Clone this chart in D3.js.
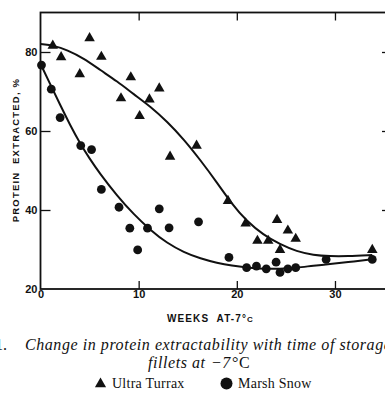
<!DOCTYPE html>
<html>
<head>
<meta charset="utf-8">
<script src="https://cdn.jsdelivr.net/npm/d3@7"></script>
<style>
  body { margin: 0; background: #fff; }
  svg { display: block; }
  .tick text { font-family: "Liberation Sans", Arial, sans-serif; font-weight: bold; font-size: 11px; fill: #111; }
  .caption { font-family: "Liberation Serif", "Times New Roman", serif; fill: #111; }
</style>
</head>
<body>
<svg id="chart" width="385" height="393"></svg>
<script>
// Ultra Turrax extractions: [weeks, % protein extracted]
const turraxPoints = [
    [1.25, 81.6], [2.1, 78.7], [4.0, 74.4], [5.0, 83.5], [6.2, 78.8],
    [8.2, 68.3], [9.2, 73.6], [10.1, 63.8], [11.1, 68.0], [12.1, 70.8],
    [13.2, 53.5], [15.9, 56.3], [19.1, 42.3], [20.9, 36.6], [22.1, 32.2],
    [23.2, 32.2], [24.1, 37.5], [24.4, 29.9], [25.2, 34.8], [26.0, 32.7],
    [33.8, 29.9]
];

// Marsh Snow extractions
const marshPoints = [
    [0.1, 76.7], [1.1, 70.6], [2.0, 63.4], [4.1, 56.3], [5.2, 55.3],
    [6.2, 45.2], [8.0, 40.7], [9.1, 35.4], [9.9, 29.9], [10.9, 35.4],
    [12.1, 40.3], [13.1, 35.5], [16.1, 37.0], [19.2, 28.0], [21.0, 25.4],
    [22.0, 25.8], [23.0, 25.1], [24.0, 26.8], [24.4, 24.2], [25.2, 25.1],
    [26.0, 25.4], [29.1, 27.5], [33.8, 27.5]
];

// hand-fitted trend curves
const turraxCurve = [
    [0, 82.0], [1.4, 81.6], [2.7, 80.5], [4.4, 78.4], [6.1, 75.4],
    [7.8, 72.6], [9.5, 69.3], [11.2, 66.2], [12.9, 62.4], [14.6, 57.9],
    [16.3, 52.6], [18.0, 46.9], [19.5, 41.5], [21.0, 37.2], [22.7, 33.7],
    [24.4, 31.3], [26.1, 29.5], [27.8, 28.6], [29.5, 28.3], [31.2, 28.3],
    [33.8, 28.6]
];
const marshCurve = [
    [0, 77.0], [1, 71.8], [2, 66.6], [3, 61.6], [4, 57.0], [5, 53.0],
    [6, 49.4], [7.8, 43.6], [9.5, 38.9], [11.2, 34.9], [12.9, 31.6],
    [14.6, 29.3], [16.3, 27.7], [18, 26.6], [19.5, 25.9], [21, 25.4],
    [22.7, 25.1], [24.4, 25.1], [26.1, 25.4], [27.8, 25.9], [29.5, 26.3],
    [31.2, 26.8], [33.8, 27.5]
];

const weekTicks = [0, 10, 20, 30];
const pctTicks = [20, 40, 60, 80];

const svg = d3.select("#chart");
const plotLeft = 40.5, plotRight = 387, plotTop = 12.5, plotBottom = 289;

const x = d3.scaleLinear().domain([0, 35.3]).range([plotLeft, plotRight]);
const y = d3.scaleLinear().domain([20, 90]).range([plotBottom, plotTop]);

const ink = "#111";

// frame
svg.append("rect")
    .attr("x", plotLeft).attr("y", plotTop)
    .attr("width", plotRight - plotLeft).attr("height", plotBottom - plotTop)
    .attr("fill", "none").attr("stroke", ink).attr("stroke-width", 1.8);

// axes with inward ticks
const yAxis = svg.append("g")
    .attr("transform", `translate(${plotLeft},0)`)
    .call(d3.axisLeft(y).tickValues(pctTicks).tickSize(-10).tickPadding(3).tickFormat(d3.format("d")));
yAxis.select(".domain").remove();
yAxis.selectAll(".tick line").attr("stroke", ink).attr("stroke-width", 1.3)
    .filter(d => d === 20).remove();

const xAxis = svg.append("g")
    .attr("transform", `translate(0,${plotBottom})`)
    .call(d3.axisBottom(x).tickValues(weekTicks).tickSize(-8).tickPadding(1).tickFormat(d3.format("d")));
xAxis.select(".domain").remove();
xAxis.selectAll(".tick line").attr("stroke", ink).attr("stroke-width", 1.3)
    .filter(d => d === 0).remove();

const topAxis = svg.append("g")
    .attr("transform", `translate(0,${plotTop})`)
    .call(d3.axisTop(x).tickValues([10, 20, 30]).tickSize(-8).tickFormat(""));
topAxis.select(".domain").remove();
topAxis.selectAll(".tick line").attr("stroke", ink).attr("stroke-width", 1.3);

const rightAxis = svg.append("g")
    .attr("transform", `translate(${plotRight},0)`)
    .call(d3.axisRight(y).tickValues([40, 60, 80]).tickSize(-5).tickFormat(""));
rightAxis.select(".domain").remove();
rightAxis.selectAll(".tick line").attr("stroke", ink).attr("stroke-width", 1.3);

// axis titles
svg.append("text")
    .attr("transform", "translate(19,150) rotate(-90)")
    .attr("text-anchor", "middle")
    .style("white-space", "pre")
    .attr("font-family", "Liberation Sans, Arial, sans-serif")
    .attr("font-weight", "bold")
    .attr("font-size", 9.5)
    .attr("letter-spacing", 1.2)
    .attr("fill", ink)
    .text("PROTEIN  EXTRACTED, %");

const xTitle = svg.append("text")
    .attr("x", 167).attr("y", 322)
    .style("white-space", "pre")
    .attr("font-family", "Liberation Sans, Arial, sans-serif")
    .attr("font-weight", "bold")
    .attr("font-size", 10)
    .attr("letter-spacing", 1.1)
    .attr("fill", ink);
xTitle.append("tspan").text("WEEKS  AT-7°");
xTitle.append("tspan").attr("font-size", 8).text("C");

// trend lines
const line = d3.line()
    .x(d => x(d[0]))
    .y(d => y(d[1]))
    .curve(d3.curveBasis);

svg.append("path").datum(turraxCurve)
    .attr("d", line).attr("fill", "none").attr("stroke", ink).attr("stroke-width", 2);
svg.append("path").datum(marshCurve)
    .attr("d", line).attr("fill", "none").attr("stroke", ink).attr("stroke-width", 2);

// markers
const tri = d3.symbol(d3.symbolTriangle, 48);
svg.append("g").selectAll("path")
    .data(turraxPoints)
    .enter().append("path")
    .attr("d", tri)
    .attr("transform", d => `translate(${x(d[0])},${y(d[1])})`)
    .attr("fill", ink);

svg.append("g").selectAll("circle")
    .data(marshPoints)
    .enter().append("circle")
    .attr("cx", d => x(d[0]))
    .attr("cy", d => y(d[1]))
    .attr("r", 4.4)
    .attr("fill", ink);

// caption
svg.append("text")
    .attr("class", "caption")
    .attr("x", 7).attr("y", 350)
    .attr("text-anchor", "end")
    .attr("font-size", 16)
    .text("1.");

svg.append("text")
    .attr("class", "caption")
    .attr("x", 25).attr("y", 350)
    .attr("font-size", 16)
    .attr("letter-spacing", 0.56)
    .attr("font-style", "italic")
    .text("Change in protein extractability with time of storage of");

const cap2 = svg.append("text")
    .attr("class", "caption")
    .attr("y", 368)
    .attr("font-size", 16)
    .attr("letter-spacing", 0.56);
cap2.append("tspan").attr("x", 148).attr("font-style", "italic").text("fillets at");
cap2.append("tspan").attr("x", 211).attr("font-style", "italic").text("−7");
cap2.append("tspan").attr("dx", 1).text("°C");

// legend
const legend = svg.append("g").attr("class", "caption");
legend.append("path")
    .attr("d", d3.symbol(d3.symbolTriangle, 54))
    .attr("transform", "translate(100.5,384)")
    .attr("fill", ink);
legend.append("text")
    .attr("x", 112).attr("y", 388)
    .attr("font-size", 14)
    .attr("letter-spacing", 0.25)
    .text("Ultra Turrax");
legend.append("circle")
    .attr("cx", 226.5).attr("cy", 383.5)
    .attr("r", 6)
    .attr("fill", ink);
legend.append("text")
    .attr("x", 238).attr("y", 388)
    .attr("font-size", 14)
    .attr("letter-spacing", 0.25)
    .text("Marsh Snow");
</script>
</body>
</html>
